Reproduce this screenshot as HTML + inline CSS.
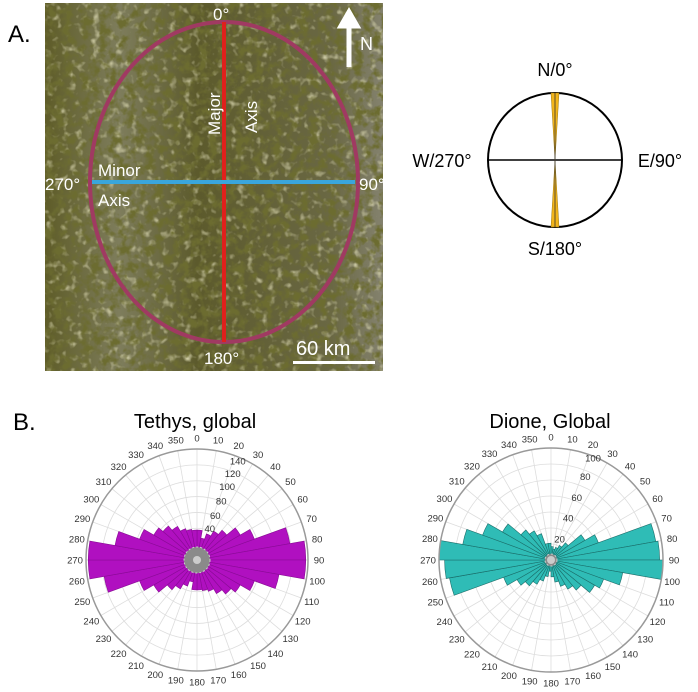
<!DOCTYPE html>
<html><head><meta charset="utf-8"><style>
body{margin:0;background:#fff;width:698px;height:687px;overflow:hidden;font-family:"Liberation Sans",sans-serif}
</style></head><body>
<svg id="s" width="698" height="687" xmlns="http://www.w3.org/2000/svg" font-family="Liberation Sans, sans-serif">
<defs>
<filter id="tex" x="0" y="0" width="100%" height="100%">
<feTurbulence type="fractalNoise" baseFrequency="0.11" numOctaves="3" seed="4"/>
<feColorMatrix type="matrix" values="0 0 0 0 0.15  0 0 0 0 0.15  0 0 0 0 0.03  0 0 0 3.5 -1.5"/>
</filter>
<filter id="tex2" x="0" y="0" width="100%" height="100%">
<feTurbulence type="fractalNoise" baseFrequency="0.13" numOctaves="2" seed="9"/>
<feColorMatrix type="matrix" values="0 0 0 0 0.68  0 0 0 0 0.66  0 0 0 0 0.42  0 0 0 2.5 -1.35"/>
</filter>
<linearGradient id="pg" x1="0" x2="1" y1="0" y2="0">
<stop offset="0" stop-color="#5e5c28"/><stop offset="0.22" stop-color="#7e7d5c"/><stop offset="0.45" stop-color="#5c5a2c"/><stop offset="0.85" stop-color="#6a6844"/><stop offset="1" stop-color="#84826e"/></linearGradient>
<clipPath id="pc"><rect x="45" y="3" width="338" height="368"/></clipPath>
</defs>
<text x="8" y="42" font-size="24">A.</text>
<g clip-path="url(#pc)">
<rect x="45" y="3" width="338" height="368" fill="url(#pg)"/>
<rect x="45" y="3" width="338" height="368" filter="url(#tex2)"/>
<rect x="45" y="3" width="338" height="368" filter="url(#tex)"/>
</g>
<ellipse cx="224" cy="182" rx="134" ry="160" fill="none" stroke="#a03a62" stroke-width="4"/>
<line x1="224" y1="22" x2="224" y2="342" stroke="#e0201c" stroke-width="4"/>
<line x1="92" y1="182" x2="355" y2="182" stroke="#3aa6dc" stroke-width="4"/>
<g fill="#fff" font-size="17">
<text x="213" y="20">0°</text>
<text x="204" y="364">180°</text>
<text x="45" y="190">270°</text>
<text x="359" y="190">90°</text>
<text x="98" y="176">Minor</text>
<text x="98" y="206">Axis</text>
<text transform="translate(220,135) rotate(-90)">Major</text>
<text transform="translate(257,133) rotate(-90)">Axis</text>
<text x="296" y="355" font-size="20">60 km</text>
<text x="360" y="50" font-size="18">N</text>
</g>
<rect x="293" y="361" width="82" height="3" fill="#fff"/>
<path d="M349 67 V20 M341 26 L349 12 L357 26 Z" stroke="#fff" stroke-width="5" fill="#fff"/>
<circle cx="555" cy="160" r="67" fill="none" stroke="#000" stroke-width="2"/>
<line x1="488" y1="160" x2="622" y2="160" stroke="#000" stroke-width="1.5"/>
<path d="M551 93 L559 93 L555 160 Z M551 227 L559 227 L555 160 Z" fill="#f2b51c" stroke="#a07a10" stroke-width="0.5"/>
<line x1="555" y1="93" x2="555" y2="227" stroke="#333" stroke-width="0.8"/>
<g font-size="18" text-anchor="middle">
<text x="555" y="76">N/0°</text><text x="555" y="255">S/180°</text>
<text x="442" y="167">W/270°</text><text x="660" y="167">E/90°</text>
</g>
<text x="13" y="430" font-size="24">B.</text>
<text x="195" y="428" font-size="20" text-anchor="middle">Tethys, global</text>
<text x="550" y="428" font-size="20" text-anchor="middle">Dione, Global</text>
<g id="p1"></g><g id="p2"></g>
</svg>
<script>
function polar(g,cx,cy,R,vals,fill,edge,rlabels,inner){
 var h="";
 var P=(a,r)=>[cx+r*Math.sin(a*Math.PI/180),cy-r*Math.cos(a*Math.PI/180)];
 for(var i=1;i<=7;i++)h+=`<circle cx="${cx}" cy="${cy}" r="${R*i/7}" fill="none" stroke="#ddd" stroke-width="0.8"/>`;
 for(var a=0;a<360;a+=10){var p=P(a,R);h+=`<line x1="${cx}" y1="${cy}" x2="${p[0]}" y2="${p[1]}" stroke="#ddd" stroke-width="0.8"/>`;}
 for(var k=0;k<36;k++){var r=vals[k]*R,a0=k*10,a1=a0+10,p0=P(a0,r),p1=P(a1,r);
  h+=`<path d="M${cx} ${cy} L${p0[0]} ${p0[1]} A${r} ${r} 0 0 1 ${p1[0]} ${p1[1]} Z" fill="${fill}" stroke="${edge}" stroke-width="0.6"/>`;}
 h+=`<circle cx="${cx}" cy="${cy}" r="${inner}" fill="#8a8a8a" stroke="#ccc" stroke-dasharray="2 2"/><circle cx="${cx}" cy="${cy}" r="4" fill="#ccc"/>`;
 h+=`<circle cx="${cx}" cy="${cy}" r="${R}" fill="none" stroke="#999" stroke-width="1.5"/>`;
 for(var a=0;a<360;a+=10){var p=P(a,R+11);h+=`<text x="${p[0]}" y="${p[1]+3.5}" font-size="9.5" fill="#333" text-anchor="middle">${a}</text>`;}
 rlabels.forEach(function(l){var p=P(22.5,l[1]*R);h+=`<text x="${p[0]}" y="${p[1]+3}" font-size="9.5" fill="#333" text-anchor="middle">${l[0]}</text>`;});
 document.getElementById(g).innerHTML=h;}
var t=[0.27,0.2,0.25,0.3,0.35,0.45,0.55,0.85,0.98,0.98,0.75,0.55,0.45,0.4,0.35,0.3,0.28,0.27,
       0.27,0.2,0.25,0.3,0.35,0.45,0.55,0.85,0.98,0.98,0.75,0.55,0.45,0.4,0.35,0.3,0.28,0.27];
polar("p1",197,560,111,t,"#b010c0","#8a0a96",[[40,0.3],[60,0.43],[80,0.57],[100,0.71],[120,0.84],[140,0.96]],13);
var d=[0.12,0.1,0.12,0.15,0.2,0.35,0.45,0.95,0.97,1.0,0.65,0.5,0.45,0.35,0.3,0.25,0.2,0.15,
       0.1,0.15,0.2,0.25,0.3,0.35,0.45,0.92,0.95,1.0,0.8,0.65,0.5,0.35,0.3,0.25,0.15,0.15];
polar("p2",551,560,112,d,"#2fbcb6","#1a6e6a",[[20,0.2],[40,0.4],[60,0.6],[80,0.8],[100,0.98]],6);
</script>
</body></html>
